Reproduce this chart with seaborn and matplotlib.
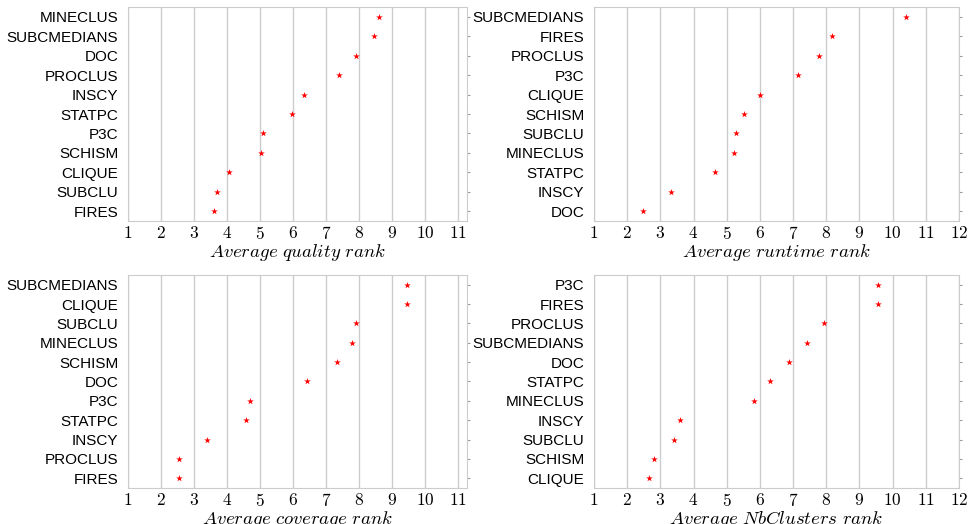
import matplotlib
matplotlib.use("Agg")
import matplotlib.pyplot as plt
import pandas as pd
import seaborn as sns

# quality rank (top to bottom)
quality_algos = ["MINECLUS", "SUBCMEDIANS", "DOC", "PROCLUS", "INSCY", "STATPC",
                 "P3C", "SCHISM", "CLIQUE", "SUBCLU", "FIRES"]
quality_vals = [8.60, 8.45, 7.90, 7.38, 6.34, 5.97, 5.10, 5.03, 4.05, 3.69, 3.62]

# runtime rank
runtime_algos = ["SUBCMEDIANS", "FIRES", "PROCLUS", "P3C", "CLIQUE", "SCHISM",
                 "SUBCLU", "MINECLUS", "STATPC", "INSCY", "DOC"]
runtime_vals = [10.41, 8.18, 7.79, 7.14, 6.00, 5.53, 5.28, 5.21, 4.64, 3.32, 2.47]

# coverage rank
coverage_algos = ["SUBCMEDIANS", "CLIQUE", "SUBCLU", "MINECLUS", "SCHISM", "DOC",
                  "P3C", "STATPC", "INSCY", "PROCLUS", "FIRES"]
coverage_vals = [9.44, 9.44, 7.91, 7.79, 7.33, 6.43, 4.69, 4.58, 3.40, 2.54, 2.54]

# number of clusters rank
nbclust_algos = ["P3C", "FIRES", "PROCLUS", "SUBCMEDIANS", "DOC", "STATPC",
                 "MINECLUS", "INSCY", "SUBCLU", "SCHISM", "CLIQUE"]
nbclust_vals = [9.56, 9.56, 7.93, 7.43, 6.89, 6.31, 5.83, 3.60, 3.40, 2.82, 2.65]

sns.set_style("whitegrid")
plt.rcParams["font.family"] = ["Liberation Sans", "DejaVu Sans"]
plt.rcParams["mathtext.fontset"] = "cm"

fig = plt.figure(figsize=(9.68, 5.24), dpi=100)

paneles = [
    (quality_algos, quality_vals, r"$Average\ quality\ rank$", [0.1322, 0.5782, 0.3502, 0.4084], 11.27, 11),
    (runtime_algos, runtime_vals, r"$Average\ runtime\ rank$", [0.6136, 0.5782, 0.3771, 0.4084], 12, 12),
    (coverage_algos, coverage_vals, r"$Average\ coverage\ rank$", [0.1322, 0.0687, 0.3502, 0.4065], 11.27, 11),
    (nbclust_algos, nbclust_vals, r"$Average\ NbClusters\ rank$", [0.6136, 0.0687, 0.3771, 0.4065], 12, 12),
]

for algos, vals, etiqueta, pos, xmax, nt in paneles:
    ax = fig.add_axes(pos)
    df = pd.DataFrame({"algo": algos, "rank": vals})
    sns.stripplot(data=df, x="rank", y="algo", order=algos, jitter=False,
                  marker="*", size=5, color="red", linewidth=0, ax=ax)
    ax.set_xlim(1, xmax)
    ax.set_ylim(10.5, -0.5)
    ax.set_xticks(range(1, nt + 1))
    ax.set_xticklabels([f"${i}$" for i in range(1, nt + 1)], fontsize=12.5, color="black")
    ax.tick_params(axis="y", labelsize=11, pad=5, labelcolor="black")
    ax.tick_params(axis="y", right=True, left=False, length=2, color="0.6")
    ax.tick_params(axis="x", length=0, pad=3)
    ax.grid(axis="y", visible=False)
    ax.grid(axis="x", color="0.8", linewidth=1)
    for sp in ax.spines.values():
        sp.set_color("0.8")
    ax.set_ylabel("")
    ax.set_xlabel(etiqueta, fontsize=13.5, labelpad=0, color="black")

plt.savefig("out.png", dpi=100)
